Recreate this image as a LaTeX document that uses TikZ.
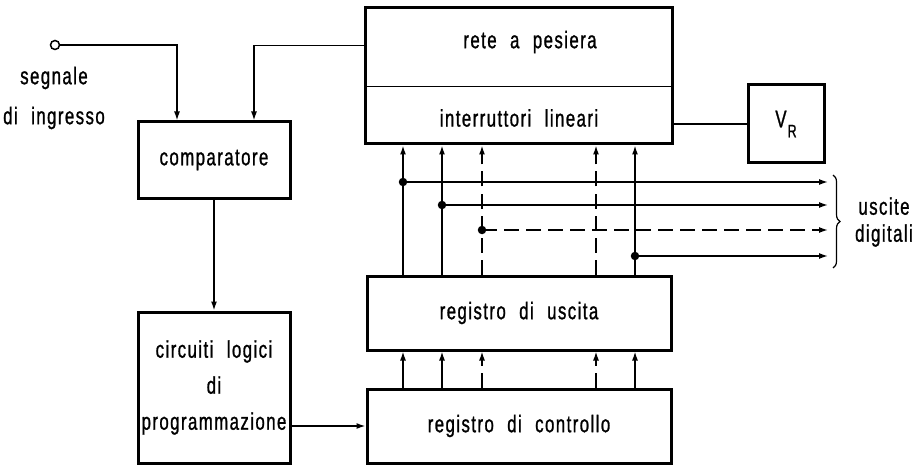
\documentclass[tikz,border=0pt]{standalone}
\usepackage{fontspec}
\setmainfont{Liberation Sans}[FakeStretch=0.7,LetterSpace=6,WordSpace=2.2,FakeBold=1]
\usetikzlibrary{arrows.meta,positioning,decorations.pathreplacing}
\tikzset
{
    process/.style={rectangle, draw=black, line width=3pt, inner sep=0pt, align=center},
    caption/.style={align=center, inner sep=0pt},
    arrow/.style={line width=1.5pt, -{Latex[length=9pt,width=6pt]}},
    wire/.style={line width=1.5pt},
    bus/.style={dash pattern=on 15pt off 7pt},
    junction/.style={circle, fill=black, minimum size=8.5pt, inner sep=0pt},
    terminal/.style={circle, draw=black, line width=1.5pt, minimum size=9pt, inner sep=0pt}
}

\begin{document}
\begin{tikzpicture}[x=1pt, y=-1pt, font=\fontsize{24}{36}\selectfont]
	\useasboundingbox (0,0) rectangle (920,465);

	\node (in) [terminal] at (55,45) {};
	\node (sig) [caption, font=\fontsize{24}{40}\selectfont] at (54,98) {segnale\\di ingresso};
	\node (cmp) [process, minimum width=152pt, minimum height=76pt] at (214,160) {comparatore};
	\node (logic) [process, minimum width=152pt, minimum height=151pt] at (214,387.5) {circuiti logici\\di\\programmazione};
	\node (rete) [process, minimum width=307pt, minimum height=136pt] at (519,76) {};
	\node (reteT) at (530,42) {rete a pesiera};
	\node (inter) at (519,118) {interruttori lineari};
	\node (vr) [process, minimum width=76pt, minimum height=78pt] at (786,124) {V\kern1pt\raisebox{-10pt}{\fontsize{18}{18}\selectfont R}};
	\node (usc) [process, minimum width=304pt, minimum height=74pt] at (519,313) {registro di uscita};
	\node (ctl) [process, minimum width=304pt, minimum height=74pt, below=36pt of usc] {registro di controllo};

	\draw [line width=1pt] ([yshift=-80pt]rete.north west) -- ([yshift=-80pt]rete.north east);

	\draw [arrow] (in.east) -| ([xshift=-37pt]cmp.north);
	\draw [arrow] ([yshift=-39pt]rete.north west) -| ([xshift=40pt]cmp.north);
	\draw [arrow] (cmp) -- (logic);
	\draw [arrow] (logic.east |- ctl) -- (ctl.west);
	\draw [wire] (rete.east |- vr) -- (vr.west);

	\foreach \o/\s in {-116/solid,-77/solid,-37/bus,77/bus,116/solid}
	{
		\draw [arrow,\s] ([xshift=\o pt]usc.north) -- ([xshift=\o pt]rete.south);
		\draw [arrow,\s] ([xshift=\o pt]ctl.north) -- ([xshift=\o pt]usc.south);
	}

	\foreach \j/\x/\y/\s in {1/403/182/solid,2/442/205/solid,3/482/230/bus,4/635/256/solid}
	{
		\coordinate (j\j) at (\x,\y);
		\coordinate (o\j) at (828,\y);
		\draw [arrow,\s] (j\j) -- (o\j);
		\node [junction] at (j\j) {};
	}

	\coordinate (bt) at (833,175);
	\coordinate (bb) at (833,268);
	\draw [line width=1.2pt, decorate, decoration={brace, amplitude=7pt}] (bt) -- (bb);
	\node (dig) [caption, font=\fontsize{24}{27}\selectfont] at (884,222) {uscite\\digitali};
\end{tikzpicture}
\end{document}
